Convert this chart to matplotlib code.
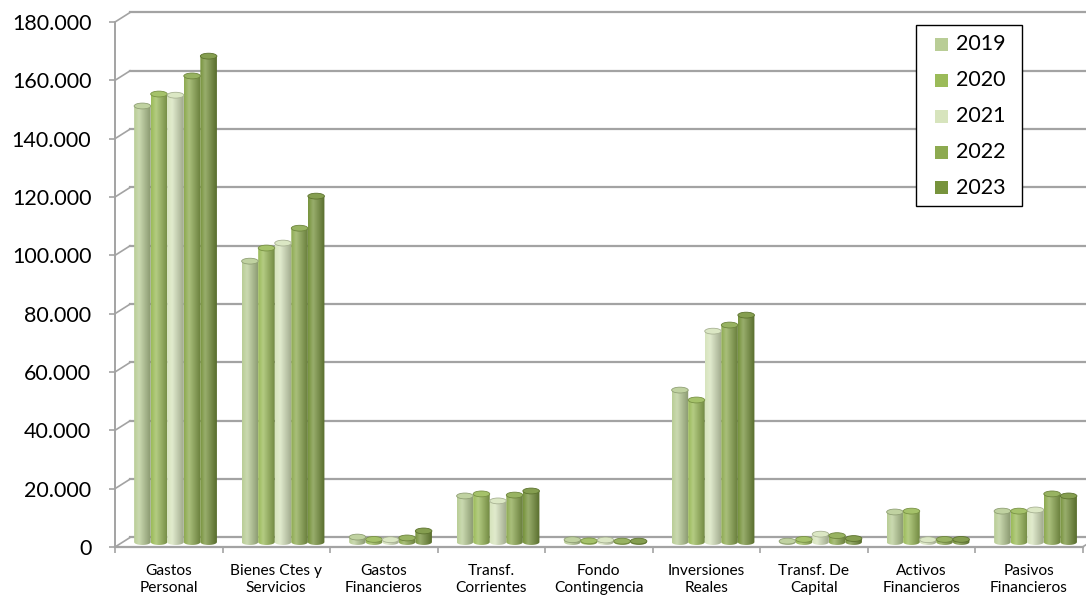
import matplotlib.pyplot as plt
import numpy as np
from matplotlib.colors import to_rgb
from matplotlib.patches import Ellipse, PathPatch, Rectangle
from matplotlib.path import Path

plt.rcParams['font.family'] = ['Lato', 'DejaVu Sans']

categories = ["Gastos\nPersonal", "Bienes Ctes y\nServicios", "Gastos\nFinancieros",
              "Transf.\nCorrientes", "Fondo\nContingencia", "Inversiones\nReales",
              "Transf. De\nCapital", "Activos\nFinancieros", "Pasivos\nFinancieros"]
years = ["2019", "2020", "2021", "2022", "2023"]

# values in thousands
v2019 = [149.5, 96.3, 1.7, 15.8, 0.8, 52.1, 0.3, 10.3, 10.6]
v2020 = [153.6, 100.8, 0.9, 16.5, 0.4, 48.7, 0.9, 10.6, 10.6]
v2021 = [153.2, 102.5, 0.8, 14.1, 0.7, 72.3, 2.7, 0.8, 11.0]
v2022 = [159.8, 107.6, 1.4, 16.1, 0.3, 74.4, 2.2, 0.9, 16.5]
v2023 = [166.6, 118.6, 3.8, 17.5, 0.3, 77.8, 1.2, 0.9, 15.8]
series = [v2019, v2020, v2021, v2022, v2023]
colors = ["#B9CD96", "#9BBB59", "#D7E4BD", "#8DAA50", "#77933C"]

YMAX = 180000
DX, DY = 0.14, 3260          # depth offset of the back wall (data units)
BASE = 1700                   # bars stand half way into the floor
BAR_W = 0.154
GROUP_SHIFT = 0.063
CAP_H = 2000
GRID = "#A3A3A3"
W, H = 1086, 601


def shade(color, n=40):
    # horizontal gradient giving the round look of Excel cylinders
    c = np.array(to_rgb(color))
    hi = c + (1 - c) * 0.25
    rows = []
    for x in np.linspace(0, 1, n):
        if x < 0.3:
            k = x / 0.3
            col = c * (1 - k) + hi * k
        else:
            k = (x - 0.3) / 0.7
            col = hi * (1 - k) + c * 0.74 * k
        rows.append(np.clip(col, 0, 1))
    return np.array(rows)[None, :, :]


def cylinder(ax, x0, h, color):
    x1 = x0 + BAR_W
    y0 = BASE
    y1 = BASE + h
    theta = np.linspace(np.pi, 2 * np.pi, 30)
    cx = (x0 + x1) / 2
    bx = cx + BAR_W / 2 * np.cos(theta)
    by = y0 + CAP_H / 2 * np.sin(theta)
    verts = list(zip(bx, by)) + [(x1, y1), (x0, y1), (bx[0], by[0])]
    codes = [Path.MOVETO] + [Path.LINETO] * (len(verts) - 2) + [Path.CLOSEPOLY]
    clip = PathPatch(Path(verts, codes), facecolor="none", edgecolor="none",
                     transform=ax.transData)
    ax.add_patch(clip)
    im = ax.imshow(shade(color), extent=[x0, x1, y0 - CAP_H, y1], aspect="auto",
                   interpolation="bicubic", zorder=3)
    im.set_clip_path(clip)
    c = np.array(to_rgb(color))
    ax.add_patch(Ellipse((cx, y1), BAR_W, CAP_H, facecolor=c * 0.9 + 0.1,
                         edgecolor=c * 0.78, lw=0.6, zorder=4))


fig = plt.figure(figsize=(W / 100, H / 100), dpi=100)
ax = fig.add_axes([115 / W, 54 / H, 967.5 / W, 525 / H])
ax.set_xlim(0, 9)
ax.set_ylim(0, YMAX)
for s in ["top", "right", "bottom", "left"]:
    ax.spines[s].set_visible(False)

yticks = np.arange(0, YMAX + 1, 20000)
# back wall gridlines and the short slanted links to the front axis
for v in yticks:
    ax.plot([DX, 9.3], [v + DY, v + DY], color=GRID, lw=1.6, clip_on=False, zorder=1)
    ax.plot([0, DX], [v, v + DY], color=GRID, lw=1.2, clip_on=False, zorder=1)
ax.plot([0, 9], [0, 0], color=GRID, lw=1.6, clip_on=False, zorder=1)
ax.plot([9, 9 + DX], [0, DY], color=GRID, lw=1.2, clip_on=False, zorder=1)
ax.plot([0, 0], [0, YMAX], color=GRID, lw=1.4, clip_on=False, zorder=1)

for j, vals in enumerate(series):
    for i, v in enumerate(vals):
        x0 = i + 0.5 + GROUP_SHIFT + (j - 2.5) * BAR_W
        cylinder(ax, x0, v * 1000, colors[j])

ax.set_xlim(0, 9)
ax.set_ylim(0, YMAX)

ax.set_yticks(yticks)
ax.set_yticklabels(["0" if v == 0 else f"{int(v):,}".replace(",", ".") for v in yticks])
ax.tick_params(axis="y", length=4, color=GRID, width=1.2, pad=13, labelsize=15.5)

ax.set_xticks(np.arange(0, 10))
ax.set_xticklabels([])
ax.set_xticks(np.arange(9) + 0.5, minor=True)
ax.set_xticklabels(categories, minor=True, fontsize=11.2, linespacing=1.3)
ax.tick_params(axis="x", which="major", length=4, color=GRID, width=1.2)
ax.tick_params(axis="x", which="minor", length=0, pad=12)

# legend box drawn by hand (pixel positions of the reference)
fig.patches.append(Rectangle((916 / W, 1 - 206 / H), 106 / W, 181 / H,
                             transform=fig.transFigure, facecolor="white",
                             edgecolor="black", lw=1.0, zorder=10))
for k, (yr, c) in enumerate(zip(years, colors)):
    yc = 44 + 36 * k
    fig.patches.append(Rectangle((935 / W, 1 - (yc + 6.5) / H), 13 / W, 13 / H,
                                 transform=fig.transFigure, facecolor=c,
                                 edgecolor="none", zorder=11))
    fig.text(956 / W, 1 - yc / H, yr, fontsize=15.5, va="center", ha="left", zorder=12)

fig.savefig("out.png", dpi=100)
